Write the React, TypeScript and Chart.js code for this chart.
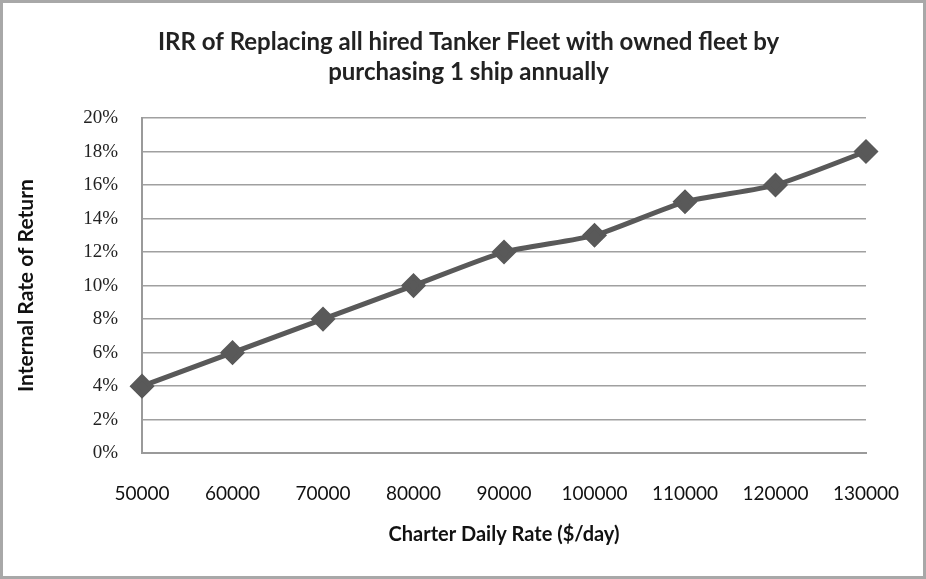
import React, { useEffect, useRef } from "react";
import { Chart, registerables } from "chart.js";

Chart.register(...registerables);

const categories = ["50000", "60000", "70000", "80000", "90000", "100000", "110000", "120000", "130000"];
const irrValues = [4, 6, 8, 10, 12, 13, 15, 16, 18];
const titleLines = ["IRR of Replacing all hired Tanker Fleet with owned fleet by", "purchasing 1 ship annually"];
const xTitle = "Charter Daily Rate ($/day)";
const yTitle = "Internal Rate of Return";

export default function App() {
  const ref = useRef<HTMLCanvasElement | null>(null);
  useEffect(() => {
    if (!ref.current) return;
    const chart = new Chart(ref.current, {
      type: "line",
      data: {
        labels: categories,
        datasets: [
          {
            data: irrValues,
            borderColor: "#595959",
            backgroundColor: "#595959",
            borderWidth: 5,
            pointStyle: "rectRot",
            pointRadius: 9,
            pointHoverRadius: 9,
            pointBackgroundColor: "#595959",
            pointBorderColor: "#595959",
            tension: 0.2,
          },
        ],
      },
      options: {
        animation: false,
        responsive: false,
        layout: { padding: { left: 11, right: 0, top: 0, bottom: 29 } },
        plugins: {
          legend: { display: false },
          tooltip: { enabled: false },
          title: {
            display: true,
            text: titleLines,
            color: "#222",
            font: { family: "Lato", size: 24, weight: "bold", lineHeight: 1.25 },
            padding: { top: 24, bottom: 31 },
          },
        },
        scales: {
          x: {
            offset: false,
            afterFit: (scale: any) => {
              scale.paddingRight = 57;
            },
            grid: { display: false, drawTicks: false },
            border: { display: true, color: "#9a9a9a", width: 2 },
            ticks: {
              color: "#111",
              font: { family: "Lato", size: 19 },
              padding: 29,
              maxRotation: 0,
              autoSkip: false,
            },
            title: {
              display: true,
              text: xTitle,
              color: "#111",
              font: { family: "Lato", size: 20, weight: "bold" },
              padding: { top: -11, bottom: 0 },
            },
          },
          y: {
            min: 0,
            max: 20,
            grid: { color: "#a0a0a0", lineWidth: 1.5, drawTicks: false },
            border: { display: true, color: "#9a9a9a", width: 2 },
            ticks: {
              stepSize: 2,
              color: "#222",
              font: { family: "Liberation Serif", size: 19 },
              padding: 24,
              callback: (v: any) => v + "%",
            },
            title: {
              display: true,
              text: yTitle,
              color: "#111",
              font: { family: "Lato", size: 21, weight: "bold" },
              padding: { top: 0, bottom: 20 },
            },
          },
        },
      },
    });
    return () => chart.destroy();
  }, []);
  return (
    <div
      style={{
        position: "absolute",
        left: 0,
        top: 0,
        width: 926,
        height: 579,
        boxSizing: "border-box",
        border: "3px solid #a8a8a8",
        background: "#fff",
      }}
    >
      <canvas ref={ref} width={920} height={573} style={{ display: "block" }} />
    </div>
  );
}
